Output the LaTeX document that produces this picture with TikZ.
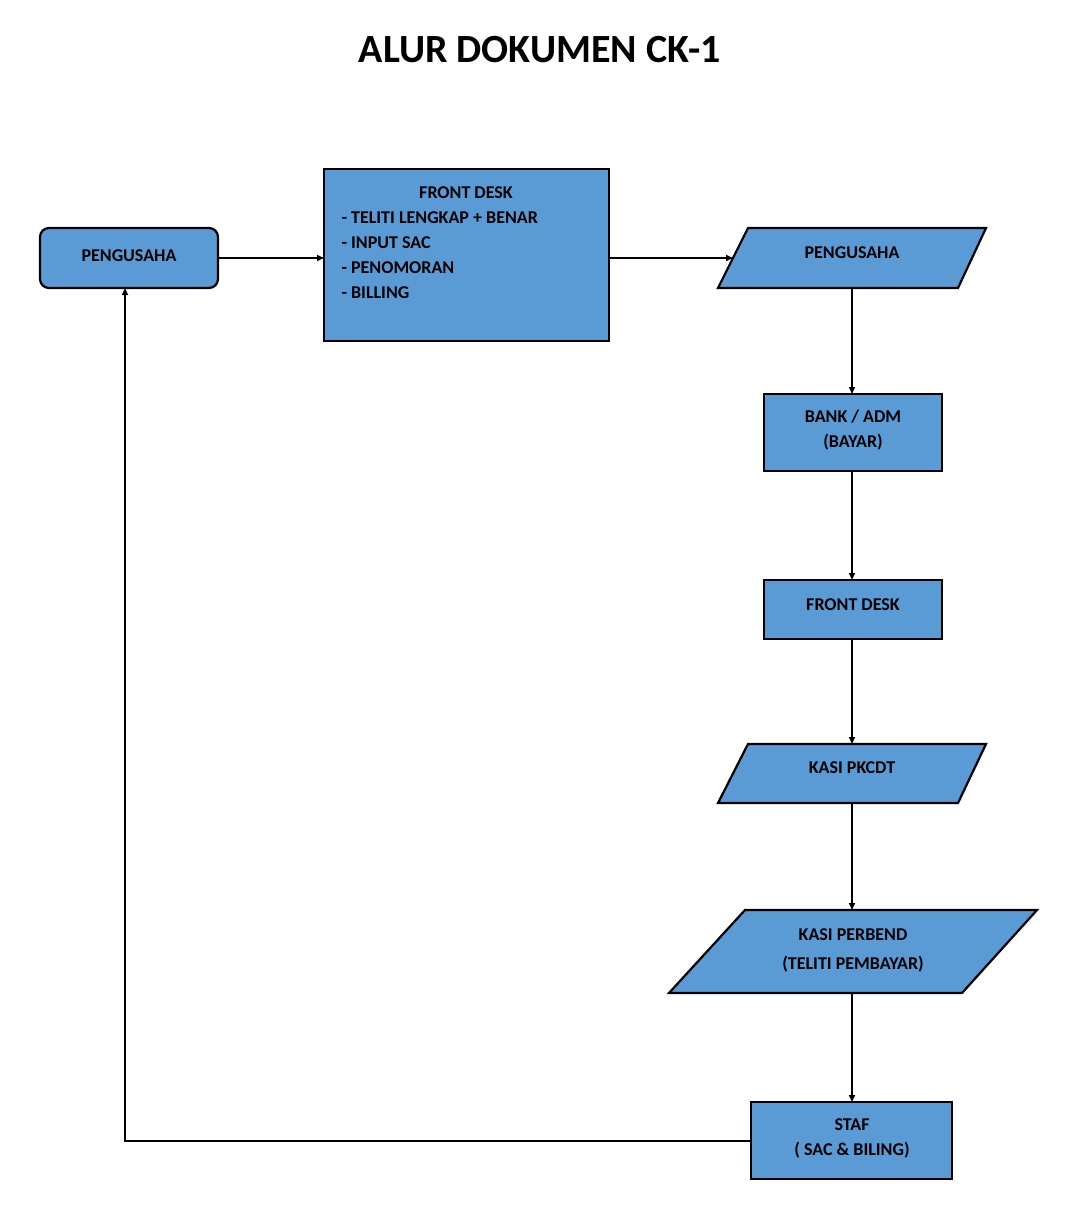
\documentclass[tikz,border=0pt]{standalone}
\usepackage{fontspec}
\setmainfont{Carlito}
\usetikzlibrary{arrows.meta}
\definecolor{fillb}{HTML}{5B9BD5}
\begin{document}
\begin{tikzpicture}[x=1pt,y=-1pt,
  box/.style={draw=black,line width=2.2pt,fill=fillb},
  txt/.style={font=\bfseries\fontsize{18}{25}\selectfont,align=center},
  arr/.style={line width=1.6pt,-{Triangle[length=7pt,width=6pt]}}]
\useasboundingbox (0,0) rectangle (1090,1225);
\node[font=\bfseries\fontsize{40}{44}\selectfont] (title) at (540,50) {ALUR DOKUMEN CK-1};
% Pengusaha rounded
\draw[box,rounded corners=9pt] (40,228) rectangle (218,288);
\node[txt] (p1) at (129,256) {PENGUSAHA};
\coordinate (p1r) at (218,258); \coordinate (p1b) at (125,288);
% Front desk big
\draw[box] (324,169) rectangle (609,341);
\node[txt] (fdt) at (466,193) {FRONT DESK};
\node[txt,align=left,anchor=north west] (fdl) at (338,208) {- TELITI LENGKAP + BENAR\\- INPUT SAC\\- PENOMORAN\\- BILLING};
\coordinate (fdl1) at (324,258); \coordinate (fdr) at (609,258);
% Pengusaha parallelogram
\draw[box] (748,228) -- (986,228) -- (958,288) -- (718,288) -- cycle;
\node[txt] (p2) at (852,253) {PENGUSAHA};
\coordinate (p2l) at (733,258); \coordinate (p2b) at (852,288);
% Bank
\draw[box] (764,394) rectangle (942,471);
\node[txt] (bank) at (853,430) {BANK / ADM\\(BAYAR)};
\coordinate (bt) at (852,394); \coordinate (bb) at (852,471);
% Front desk 2
\draw[box] (764,580) rectangle (942,639);
\node[txt] (fd2) at (853,605) {FRONT DESK};
\coordinate (f2t) at (852,580); \coordinate (f2b) at (852,639);
% Kasi PKCDT
\draw[box] (748,744) -- (986,744) -- (958,803) -- (718,803) -- cycle;
\node[txt] (kp) at (852,768) {KASI PKCDT};
\coordinate (kpt) at (852,744); \coordinate (kpb) at (852,803);
% Kasi Perbend
\draw[box] (745,910) -- (1037,910) -- (962,993) -- (669,993) -- cycle;
\node[txt] (kb) at (853,950) {KASI PERBEND\\[4pt](TELITI PEMBAYAR)};
\coordinate (kbt) at (852,910); \coordinate (kbb) at (852,993);
% Staf
\draw[box] (751,1102) rectangle (952,1179);
\node[txt] (st) at (852,1138) {STAF\\( SAC \& BILING)};
\coordinate (stt) at (852,1102); \coordinate (stl) at (751,1141);
% arrows
\draw[arr] (p1r) -- (fdl1);
\draw[arr] (fdr) -- (p2l);
\draw[arr] (p2b) -- (bt);
\draw[arr] (bb) -- (f2t);
\draw[arr] (f2b) -- (kpt);
\draw[arr] (kpb) -- (kbt);
\draw[arr] (kbb) -- (stt);
\draw[arr] (stl) -- (125,1141) -- (p1b);
\end{tikzpicture}
\end{document}
